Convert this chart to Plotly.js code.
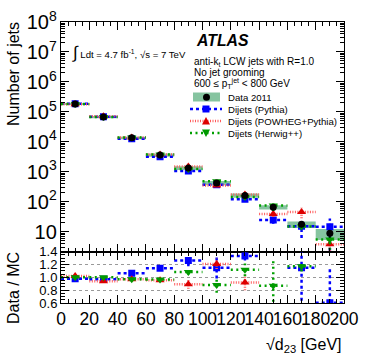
<!DOCTYPE html>
<html><head><meta charset="utf-8">
<script src="https://cdn.plot.ly/plotly-3.0.1.min.js"></script>
<style>body{margin:0;background:#fff}#chart{width:374px;height:359px}</style>
</head><body><div id="chart"></div>
<script>
// ---- data ----
const binLow    = [0, 20, 40, 60, 80, 100, 120, 140, 160, 180];
const binHigh   = [20, 40, 60, 80, 100, 120, 140, 160, 180, 200];
const binCenter = [10, 30, 50, 70, 90, 110, 130, 150, 170, 190];

const dataCounts  = [1.83e5, 6.73e4, 1.36e4, 3650, 1350, 427, 162, 66, 17.7, 8.85];
const dataStatRel = [0.002, 0.004, 0.008, 0.016, 0.027, 0.05, 0.08, 0.12, 0.2, 0.3];
const dataSystRel = [0.08, 0.08, 0.1, 0.12, 0.14, 0.16, 0.16, 0.16, 0.25, 0.4];

const pythiaCounts = [1.87e5, 6.94e4, 1.277e4, 3200, 1070, 371, 121.5, 24.6, 15.4, 14.7];
const pythiaRel    = [0.005, 0.005, 0.01, 0.015, 0.05, 0.1, 0.08, 0.25, 0.6, 0.9];
const pythiaRatioErr = [0.01, 0.01, 0.015, 0.02, 0.09, 0.17, 0.07, 0.6, 0.7, 0.55];

const powhegCounts = [1.79e5, 7.16e4, 1.40e4, 3820, 1510, 353, 176, 39, 46, 3.8];
const powhegRel    = [0.005, 0.005, 0.01, 0.015, 0.05, 0.06, 0.1, 0.2, 0.38, 0.6];
const powhegRatioErr = [0.01, 0.01, 0.015, 0.02, 0.07, 0.08, 0.12, 0.2, 0.15, 0.5];

const herwigCounts = [1.83e5, 6.73e4, 1.40e4, 3780, 1245, 485, 145, 76, 15.1, 5.5];
const herwigRel    = [0.005, 0.005, 0.01, 0.015, 0.04, 0.1, 0.08, 0.35, 0.12, 0.7];
const herwigRatioErr = [0.01, 0.01, 0.015, 0.02, 0.04, 0.12, 0.1, 0.42, 0.08, 0.15];

const legendLabels = ["Data 2011", "Dijets (Pythia)", "Dijets (POWHEG+Pythia)", "Dijets (Herwig++)"];

// ---- styles ----
const FONT = "Liberation Sans, Arial, Helvetica, sans-serif";
const bandColor = "#86c4a0";
const styles = {
  pythia: {color: "#0000ff", lineColor: "#0000ff", dash: "3px,3px", width: 2.5, symbol: "square", size: 7},
  powheg: {color: "#dd0000", lineColor: "rgb(255,90,90)", dash: "1px,1.5px", width: 2.5, symbol: "triangle-up", size: 8},
  herwig: {color: "#009900", lineColor: "#00a000", dash: "2px,3.5px", width: 2.5, symbol: "triangle-down", size: 8}
};

function hSegs(vals, xa, ya, st) {
  const x = [], y = [];
  vals.forEach((v, i) => { x.push(binLow[i], binHigh[i], null); y.push(v, v, null); });
  return {x, y, xaxis: xa, yaxis: ya, mode: "lines", hoverinfo: "skip", showlegend: false,
    line: {color: st.lineColor, width: st.width, dash: st.dash}};
}
function vSegs(vals, lo, hi, xa, ya, st) {
  const x = [], y = [];
  vals.forEach((v, i) => { x.push(binCenter[i], binCenter[i], null); y.push(lo[i], hi[i], null); });
  return {x, y, xaxis: xa, yaxis: ya, mode: "lines", hoverinfo: "skip", showlegend: false,
    line: {color: st.lineColor, width: st.width, dash: st.dash}};
}
function marks(vals, xa, ya, st) {
  return {x: binCenter, y: vals, xaxis: xa, yaxis: ya, mode: "markers", showlegend: false,
    marker: {color: st.color, symbol: st.symbol, size: st.size}};
}

const traces = [];
// data systematic band
{
  const x = [], y = [];
  dataCounts.forEach((d, i) => {
    const lo = d * (1 - dataSystRel[i]), hi = d * (1 + dataSystRel[i]);
    x.push(binLow[i], binHigh[i], binHigh[i], binLow[i], binLow[i], null);
    y.push(lo, lo, hi, hi, lo, null);
  });
  traces.push({x, y, xaxis: "x", yaxis: "y", mode: "lines", fill: "toself", fillcolor: bandColor,
    line: {width: 0, color: bandColor}, hoverinfo: "skip", showlegend: false});
}
const mcSets = [
  [pythiaCounts, pythiaRel, pythiaRatioErr, styles.pythia],
  [powhegCounts, powhegRel, powhegRatioErr, styles.powheg],
  [herwigCounts, herwigRel, herwigRatioErr, styles.herwig]
];
mcSets.forEach(([vals, rel, rerr, st]) => {
  traces.push(hSegs(vals, "x", "y", st));
  traces.push(vSegs(vals, vals.map((v, i) => v * (1 - rel[i])), vals.map((v, i) => v * (1 + rel[i])), "x", "y", st));
  traces.push(marks(vals, "x", "y", st));
  const ratio = dataCounts.map((d, i) => d / vals[i]);
  traces.push(hSegs(ratio, "x2", "y2", st));
  traces.push(vSegs(ratio, ratio.map((r, i) => r - rerr[i]), ratio.map((r, i) => r + rerr[i]), "x2", "y2", st));
  traces.push(marks(ratio, "x2", "y2", st));
});
// data points
traces.push({x: binCenter, y: dataCounts, xaxis: "x", yaxis: "y", mode: "markers", showlegend: false,
  marker: {color: "#000", symbol: "circle", size: 7},
  error_y: {type: "data", array: dataCounts.map((d, i) => d * dataStatRel[i]), color: "#000", thickness: 1.2, width: 0}});

// ---- layout helpers (pixel -> paper) ----
const L = 61, T = 22, W = 283, H = 281;
const px = p => (p - L) / W;
const py = p => (T + H - p) / H;
const split = py(251.7);

const tickFont = {family: FONT, size: 16, color: "#000"};
const axisCommon = {showline: true, linecolor: "#000", linewidth: 1, mirror: "allticks",
  ticks: "inside", tickcolor: "#000", zeroline: false, showgrid: false, tickfont: tickFont, tickangle: 0};

const shapes = [
  {type: "rect", xref: "paper", yref: "paper", x0: px(193), x1: px(220), y0: py(101.5), y1: py(92.5),
    fillcolor: bandColor, line: {width: 0}},
  {type: "circle", xref: "paper", yref: "paper", x0: px(203), x1: px(210), y0: py(100.8), y1: py(93.8),
    fillcolor: "#000", line: {width: 0}}
];
const legRows = [[109, styles.pythia], [121, styles.powheg], [133, styles.herwig]];
legRows.forEach(([yy, st]) => {
  shapes.push({type: "line", xref: "paper", yref: "paper", x0: px(190), x1: px(222), y0: py(yy), y1: py(yy),
    line: {color: st.lineColor, width: st.width, dash: st.dash}});
});
// legend marker glyphs
const cx = 206;
shapes.push({type: "rect", xref: "paper", yref: "paper", x0: px(cx - 3.5), x1: px(cx + 3.5), y0: py(109 + 3.5), y1: py(109 - 3.5),
  fillcolor: styles.pythia.color, line: {width: 0}});
shapes.push({type: "path", xref: "paper", yref: "paper",
  path: `M ${px(cx - 4)} ${py(121 + 3.5)} L ${px(cx + 4)} ${py(121 + 3.5)} L ${px(cx)} ${py(121 - 4)} Z`,
  fillcolor: styles.powheg.color, line: {width: 0}});
shapes.push({type: "path", xref: "paper", yref: "paper",
  path: `M ${px(cx - 4)} ${py(133 - 3.5)} L ${px(cx + 4)} ${py(133 - 3.5)} L ${px(cx)} ${py(133 + 4)} Z`,
  fillcolor: styles.herwig.color, line: {width: 0}});

const txt = (text, x, y, size, extra) => Object.assign({text, xref: "paper", yref: "paper", x, y,
  xanchor: "left", yanchor: "middle", showarrow: false, font: {family: FONT, size, color: "#000"}}, extra || {});

const LEG = 9.6, INFO = 10;
const annotations = [
  txt("<span style='font-size:17px'>∫</span> Ldt = 4.7 fb<sup>-1</sup>, √s = 7 TeV", px(70), py(52), 9.6),
  txt("<b><i>ATLAS</i></b>", px(194), py(40), 15.8),
  txt("anti-k<sub>t</sub> LCW jets with R=1.0", px(192), py(61.5), INFO),
  txt("No jet grooming", px(192), py(72), INFO),
  txt("600 ≤ p<sub>T</sub><sup>jet</sup> &lt; 800 GeV", px(192), py(84), INFO),
  txt(legendLabels[0], px(226), py(97.3), LEG),
  txt(legendLabels[1], px(226), py(109), LEG),
  txt(legendLabels[2], px(226), py(121), LEG),
  txt(legendLabels[3], px(226), py(133), LEG),
  txt("Number of jets", px(13), py(20), 16, {textangle: -90, xanchor: "center", yanchor: "top"}),
  txt("Data / MC", px(13), py(250), 16, {textangle: -90, xanchor: "center", yanchor: "top"}),
  txt("√d<sub>23</sub> [GeV]", 1, py(345), 16, {xanchor: "right"})
];

const layout = {
  width: 374, height: 359,
  margin: {l: L, r: 374 - L - W, t: T, b: 359 - T - H, pad: 0},
  paper_bgcolor: "#fff", plot_bgcolor: "#fff",
  showlegend: false,
  font: {family: FONT, color: "#000"},
  xaxis: Object.assign({}, axisCommon, {domain: [0, 1], anchor: "y", range: [0, 200], dtick: 20, tick0: 0,
    ticklen: 8, showticklabels: false, matches: "x2",
    minor: {dtick: 5, ticklen: 4, ticks: "inside", tickcolor: "#000", showgrid: false}}),
  yaxis: Object.assign({}, axisCommon, {domain: [split, 1], anchor: "x", type: "log", range: [0.335, 8],
    dtick: 1, ticklen: 8, exponentformat: "power",
    minor: {dtick: "D1", ticklen: 4, ticks: "inside", tickcolor: "#000", showgrid: false}}),
  xaxis2: Object.assign({}, axisCommon, {domain: [0, 1], anchor: "y2", range: [0, 200], dtick: 20, tick0: 0,
    ticklen: 8, tickfont: {family: FONT, size: 17.5, color: "#000"},
    minor: {dtick: 5, ticklen: 4, ticks: "inside", tickcolor: "#000", showgrid: false}}),
  yaxis2: Object.assign({}, axisCommon, {domain: [0, split], anchor: "x2", range: [0.6, 1.4], dtick: 0.2, tick0: 0.6,
    tickformat: ".1f", ticklen: 8, tickfont: {family: FONT, size: 13, color: "#000"},
    showgrid: true, gridcolor: "#999", griddash: "dot", gridwidth: 1,
    minor: {dtick: 0.05, ticklen: 4, ticks: "inside", tickcolor: "#000", showgrid: false}}),
  shapes, annotations
};

Plotly.newPlot("chart", traces, layout, {displayModeBar: false, staticPlot: true});
</script></body></html>
